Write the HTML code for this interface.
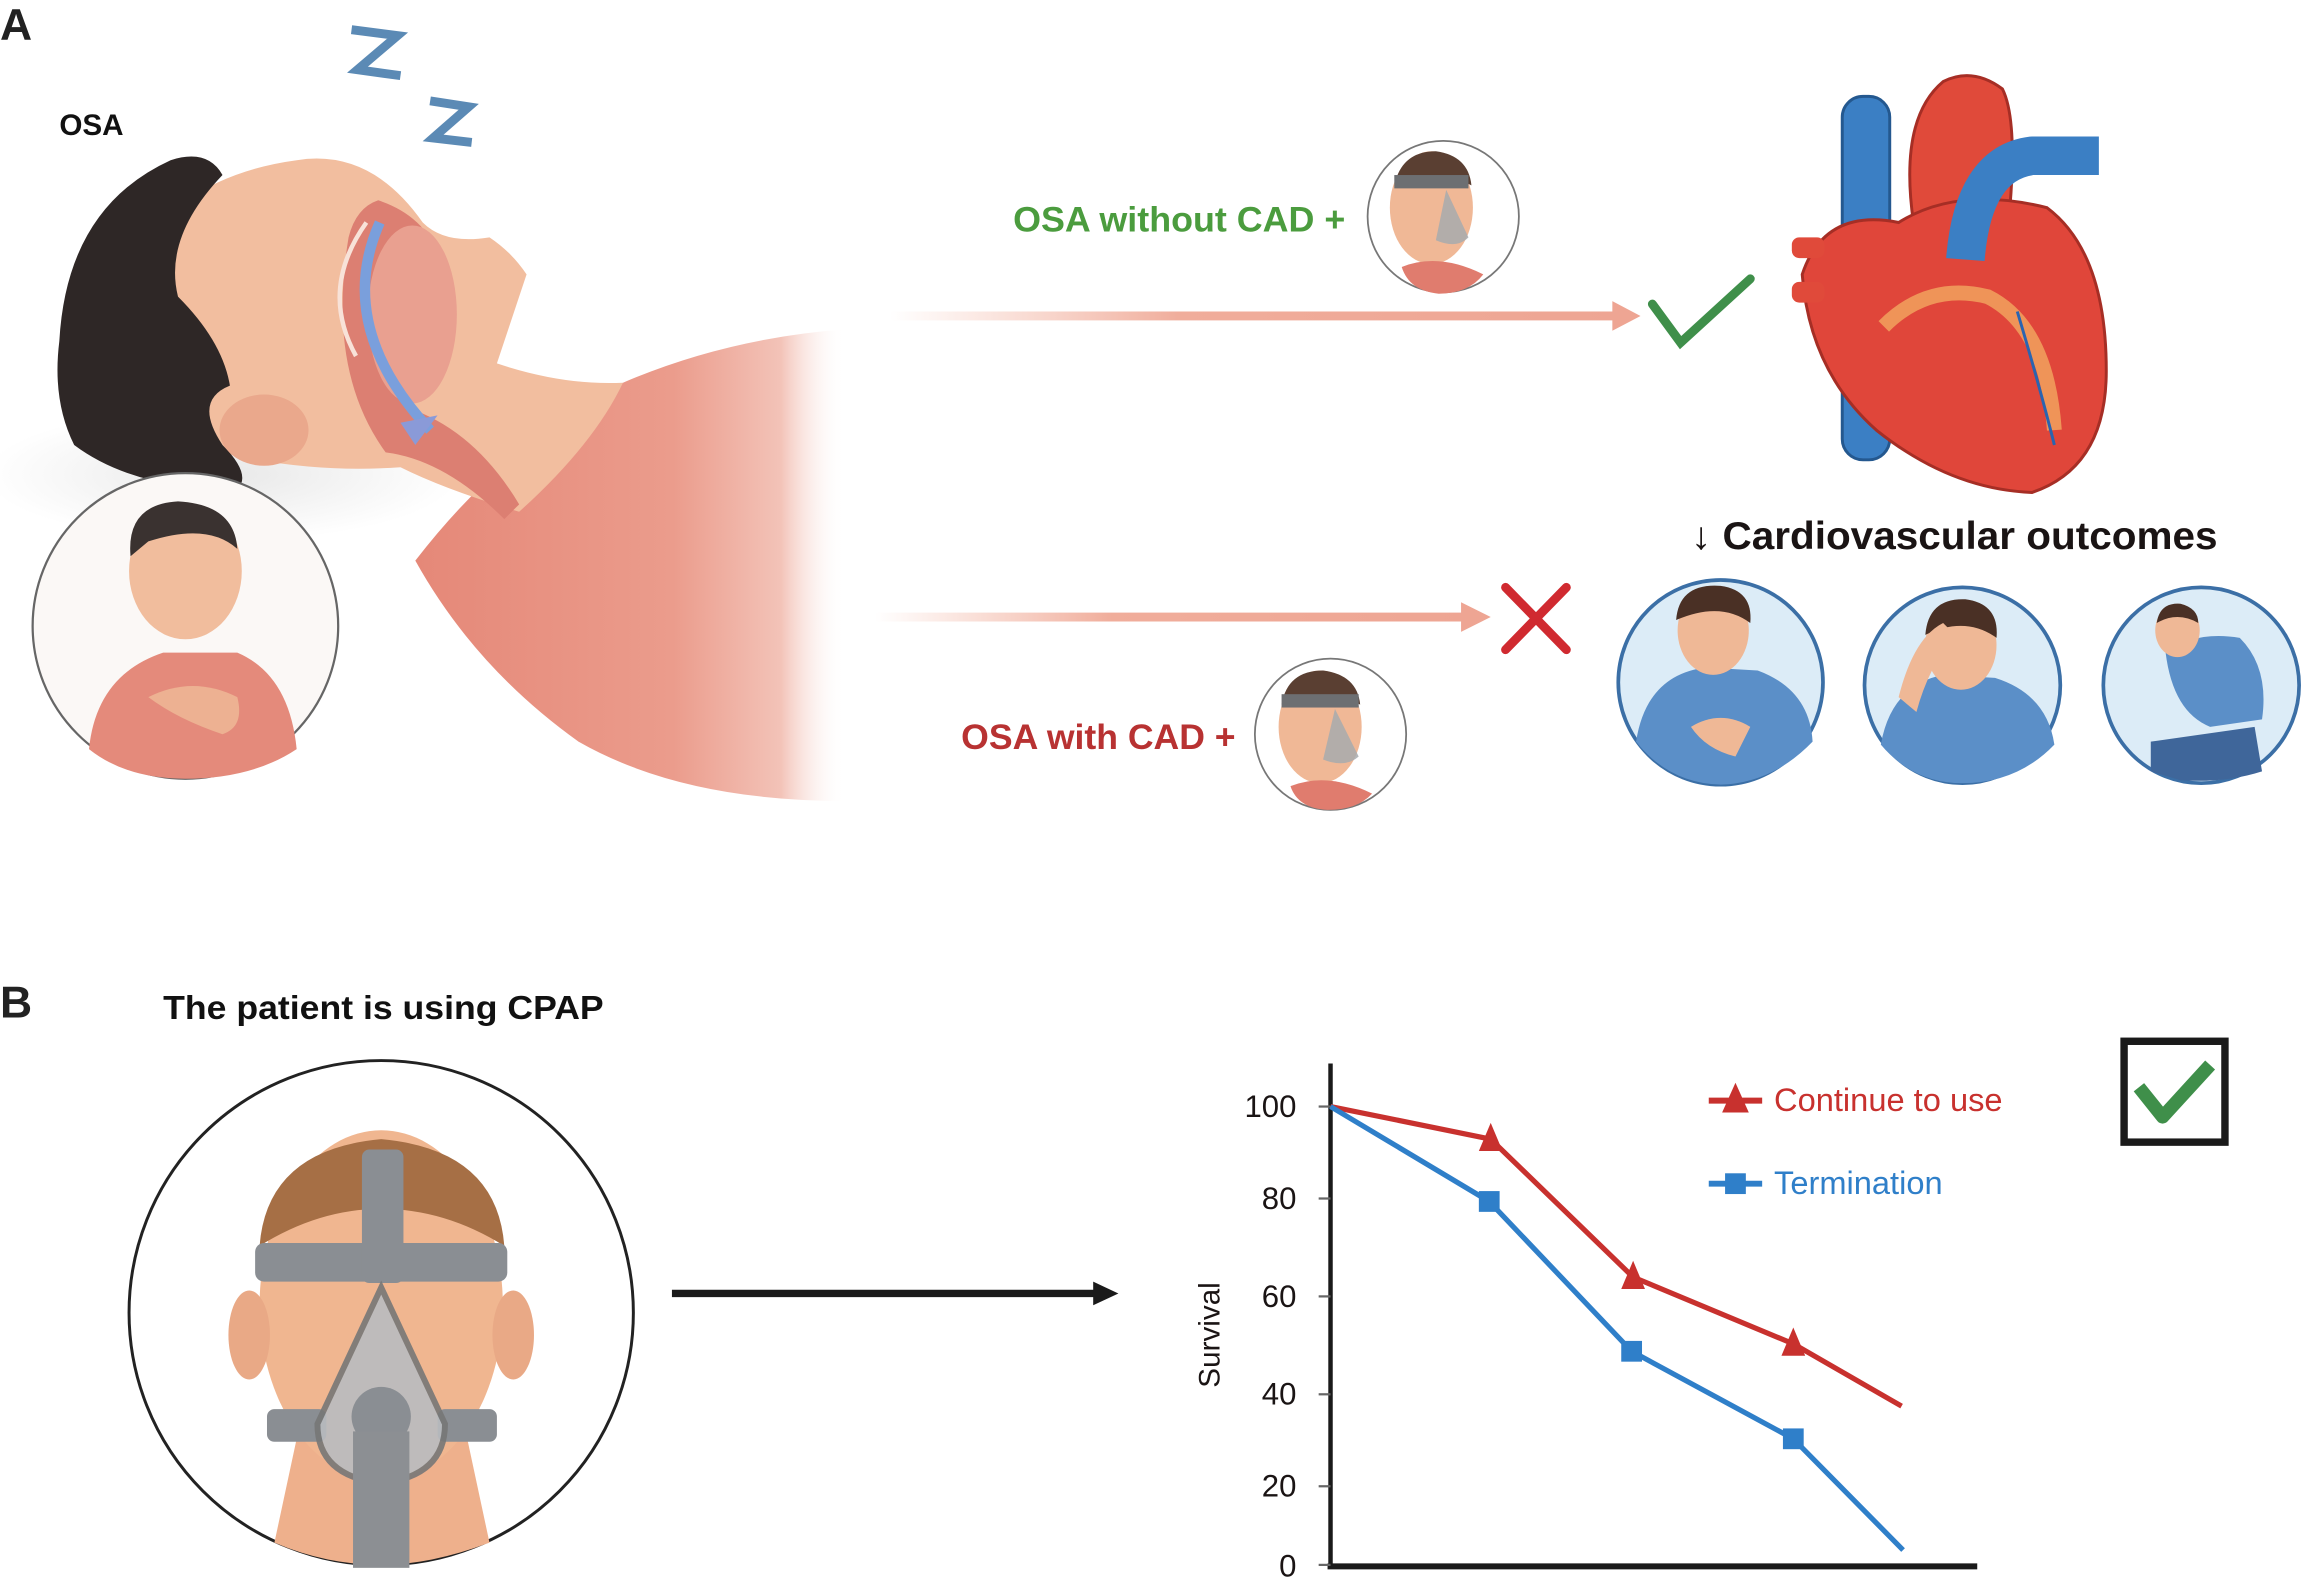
<!DOCTYPE html>
<html><head><meta charset="utf-8"><style>
html,body{margin:0;padding:0;background:#fff;}
svg{display:block;}
text{font-family:"Liberation Sans",sans-serif;}
</style></head><body>
<svg width="2314" height="1590" viewBox="0 0 2314 1590" xmlns="http://www.w3.org/2000/svg">
<defs>
<linearGradient id="ar" x1="0" x2="1"><stop offset="0" stop-color="#f4b9a8" stop-opacity="0"/><stop offset="0.4" stop-color="#f0ad9b"/><stop offset="1" stop-color="#eea593"/></linearGradient>
<linearGradient id="shirt" gradientUnits="userSpaceOnUse" x1="280" y1="0" x2="570" y2="0"><stop offset="0" stop-color="#e58878"/><stop offset="0.6" stop-color="#eb9c8c"/><stop offset="0.85" stop-color="#f3c3b8"/><stop offset="1" stop-color="#fff" stop-opacity="0"/></linearGradient>
<radialGradient id="pil" cx="0.5" cy="0.5" r="0.5"><stop offset="0" stop-color="#e8e8e8"/><stop offset="1" stop-color="#fff"/></radialGradient>
</defs>
<g transform="scale(1.4833)">
<text x="0" y="27" font-size="30" font-weight="bold" fill="#222">A</text>
<text x="40" y="91" font-size="20" font-weight="bold" fill="#111">OSA</text>
<polyline points="237,20 268,24 241,47 270,51" fill="none" stroke="#5b8ab5" stroke-width="6"/>
<polyline points="290,68 316,72 292,93 318,96" fill="none" stroke="#5b8ab5" stroke-width="6"/>
<ellipse cx="150" cy="320" rx="160" ry="45" fill="url(#pil)"/>
<path d="M280,378 Q340,300 420,258 Q490,228 570,222 L570,540 Q460,540 390,500 Q320,450 280,378Z" fill="url(#shirt)"/>
<path d="M70,200 Q110,120 200,108 Q250,100 285,150 Q300,165 330,160 Q345,170 355,185 Q345,215 335,245 Q380,260 420,258 Q400,300 350,345 Q300,330 270,315 Q200,320 130,300 Q80,260 70,200Z" fill="#f2be9f"/>
<path d="M40,230 Q45,140 115,108 Q140,100 150,118 Q110,160 120,200 Q150,230 155,260 Q130,270 150,300 Q170,320 160,330 Q90,330 50,300 Q35,270 40,230Z" fill="#2e2726"/>
<ellipse cx="178" cy="290" rx="30" ry="24" fill="#eaa88c"/>
<path d="M235,160 Q240,140 255,135 Q300,150 300,200 Q290,240 275,275 Q320,290 350,340 L340,350 Q300,310 260,305 Q220,250 235,160Z" fill="#dc7f72"/>
<ellipse cx="278" cy="212" rx="30" ry="60" fill="#e9a090"/>
<path d="M256,150 Q225,220 290,290" fill="none" stroke="#7a9fdc" stroke-width="7"/>
<path d="M247,150 Q215,195 240,240" fill="none" stroke="#f8e2d8" stroke-width="3"/>
<polygon points="270,285 295,280 280,300" fill="#8a9ad8"/>
<circle cx="125" cy="422" r="103" fill="#fbf8f6" stroke="#666" stroke-width="1.5"/>
<path d="M60,505 Q65,455 110,440 L160,440 Q195,455 200,505 Q170,525 125,525 Q85,525 60,505Z" fill="#e48a7b"/>
<ellipse cx="125" cy="385" rx="38" ry="46" fill="#f1bd9d"/>
<path d="M88,375 Q85,340 120,338 Q158,340 160,370 Q140,352 100,365Z" fill="#3a3230"/>
<path d="M100,470 Q130,455 160,470 Q165,490 150,495 Q120,485 100,470Z" fill="#edb192"/>
<rect x="600" y="210" width="490" height="6" fill="url(#ar)"/>
<polygon points="1087,203 1106,213 1087,223" fill="#eea593"/>
<polyline points="1114,205 1133,231 1180,188" fill="none" stroke="#3f8f4a" stroke-width="6" stroke-linecap="round"/>
<rect x="590" y="413" width="398" height="6" fill="url(#ar)"/>
<polygon points="985,406 1005,416 985,426" fill="#eea593"/>
<line x1="1015" y1="396" x2="1056" y2="438" stroke="#d02a30" stroke-width="6" stroke-linecap="round"/>
<line x1="1056" y1="396" x2="1015" y2="438" stroke="#d02a30" stroke-width="6" stroke-linecap="round"/>
<text x="683" y="156" font-size="24" font-weight="bold" fill="#4b9c3e" textLength="224" lengthAdjust="spacingAndGlyphs">OSA without CAD +</text>
<text x="648" y="505" font-size="24" font-weight="bold" fill="#b83232" textLength="185" lengthAdjust="spacingAndGlyphs">OSA with CAD +</text>
<g>
<circle cx="973" cy="146" r="51" fill="#fff" stroke="#777" stroke-width="1.2"/>
<ellipse cx="965" cy="140" rx="28" ry="38" fill="#f0b896"/>
<path d="M940,125 Q945,102 968,102 Q990,105 992,125 Q968,112 940,125Z" fill="#5a3f32"/>
<path d="M945,180 Q970,170 1000,185 Q990,198 970,198 Q950,196 945,180Z" fill="#e07c6e"/>
<rect x="940" y="118" width="50" height="9" fill="#6d6f72"/>
<path d="M975,128 L990,160 Q982,168 968,162Z" fill="#a7aaae" opacity="0.85"/>
</g>
<g>
<circle cx="897" cy="495" r="51" fill="#fff" stroke="#777" stroke-width="1.2"/>
<ellipse cx="890" cy="490" rx="28" ry="38" fill="#f0b896"/>
<path d="M864,475 Q868,452 892,452 Q915,455 917,475 Q892,462 864,475Z" fill="#5a3f32"/>
<path d="M870,530 Q895,520 925,535 Q915,546 895,546 Q875,545 870,530Z" fill="#e07c6e"/>
<rect x="864" y="468" width="52" height="9" fill="#6d6f72"/>
<path d="M900,478 L916,510 Q907,518 892,512Z" fill="#a7aaae" opacity="0.85"/>
</g>
<rect x="1242" y="65" width="32" height="245" rx="14" fill="#3b7fc4" stroke="#24588f" stroke-width="2"/>
<path d="M1290,150 Q1280,80 1310,55 Q1330,45 1350,60 Q1360,80 1355,140Z" fill="#e04a3a" stroke="#a62e25" stroke-width="2"/>
<path d="M1215,185 Q1230,140 1280,150 Q1320,125 1380,140 Q1420,170 1420,250 Q1420,315 1370,332 Q1315,330 1265,290 Q1220,250 1215,185Z" fill="#e0463a" stroke="#a62e25" stroke-width="2"/>
<path d="M1270,220 Q1300,190 1340,200 Q1380,220 1385,290" fill="none" stroke="#f2a860" stroke-width="10" opacity="0.8"/>
<path d="M1325,175 Q1330,110 1370,105 L1415,105" fill="none" stroke="#3b7fc4" stroke-width="26" stroke-linejoin="round"/>
<path d="M1360,210 Q1375,260 1385,300" fill="none" stroke="#2a64b0" stroke-width="2"/>
<rect x="1208" y="160" width="22" height="14" rx="5" fill="#e04a3a"/>
<rect x="1208" y="190" width="22" height="14" rx="5" fill="#e04a3a"/>
<text x="1140" y="370" font-size="26" font-weight="bold" fill="#1a1414" textLength="355" lengthAdjust="spacingAndGlyphs">↓ Cardiovascular outcomes</text>
<g>
<circle cx="1160" cy="460" r="69" fill="#dcecf7" stroke="#3b6fa6" stroke-width="2.5"/>
<path d="M1103,500 Q1110,455 1150,450 L1185,452 Q1220,465 1222,500 Q1195,528 1160,529 Q1125,528 1103,500Z" fill="#5b8fc8"/>
<ellipse cx="1155" cy="425" rx="24" ry="30" fill="#efb896"/>
<path d="M1130,418 Q1132,393 1160,395 Q1182,398 1180,420 Q1160,405 1130,418Z" fill="#4a3025"/>
<path d="M1140,490 Q1160,478 1180,490 L1170,510 Q1150,505 1140,490Z" fill="#efb896"/>
</g>
<g>
<circle cx="1323" cy="462" r="66" fill="#dcecf7" stroke="#3b6fa6" stroke-width="2.5"/>
<path d="M1268,502 Q1275,462 1310,455 L1345,457 Q1380,468 1385,502 Q1360,528 1323,528 Q1290,528 1268,502Z" fill="#5b8fc8"/>
<ellipse cx="1322" cy="435" rx="24" ry="30" fill="#efb896"/>
<path d="M1298,428 Q1300,403 1325,404 Q1348,407 1346,430 Q1325,415 1298,428Z" fill="#4a3025"/>
<path d="M1280,470 Q1290,430 1310,420 L1318,428 Q1300,450 1292,480Z" fill="#efb896"/>
</g>
<g>
<circle cx="1484" cy="462" r="66" fill="#dcecf7" stroke="#3b6fa6" stroke-width="2.5"/>
<path d="M1460,440 Q1480,425 1510,430 Q1530,450 1525,485 L1490,490 Q1465,480 1460,440Z" fill="#5b8fc8"/>
<path d="M1450,500 L1520,490 L1525,520 Q1500,528 1470,526 L1450,520Z" fill="#3f669a"/>
<ellipse cx="1468" cy="425" rx="15" ry="18" fill="#efb896"/>
<path d="M1454,420 Q1456,406 1470,407 Q1482,410 1482,420 Q1468,412 1454,420Z" fill="#4a3025"/>
</g>
<text x="0" y="686" font-size="30" font-weight="bold" fill="#222">B</text>
<text x="110" y="687" font-size="22.5" font-weight="bold" fill="#111" textLength="297" lengthAdjust="spacingAndGlyphs">The patient is using CPAP</text>
<circle cx="257" cy="885" r="170" fill="#fff" stroke="#222" stroke-width="2"/>
<path d="M200,970 L315,970 L330,1040 Q290,1055 257,1055 Q220,1055 185,1040Z" fill="#eeb08c"/>
<ellipse cx="257" cy="880" rx="82" ry="118" fill="#f0b690"/>
<ellipse cx="168" cy="900" rx="14" ry="30" fill="#e9a986"/>
<ellipse cx="346" cy="900" rx="14" ry="30" fill="#e9a986"/>
<path d="M175,840 Q180,775 257,768 Q335,775 340,840 Q300,815 257,815 Q215,815 175,840Z" fill="#a66f45"/>
<rect x="172" y="838" width="170" height="26" rx="6" fill="#8a8e93"/>
<rect x="244" y="775" width="28" height="90" rx="5" fill="#8a8e93"/>
<rect x="180" y="950" width="40" height="22" rx="5" fill="#8a8e93"/>
<rect x="295" y="950" width="40" height="22" rx="5" fill="#8a8e93"/>
<path d="M257,868 L300,960 Q300,995 257,1000 Q214,995 214,960Z" fill="#b9bcc0" stroke="#777" stroke-width="4" opacity="0.9"/>
<circle cx="257" cy="955" r="20" fill="#8a8e93"/>
<rect x="238" y="965" width="38" height="92" fill="#8c8f93"/>
<line x1="453" y1="872" x2="740" y2="872" stroke="#1a1a1a" stroke-width="5"/>
<polygon points="737,864 754,872 737,880" fill="#1a1a1a"/>
<line x1="897" y1="717" x2="897" y2="1057" stroke="#1a1a1a" stroke-width="3"/>
<line x1="895" y1="1056" x2="1333" y2="1056" stroke="#1a1a1a" stroke-width="4"/>
<g stroke="#666" stroke-width="1.5">
<line x1="889" y1="746" x2="897" y2="746"/><line x1="889" y1="808" x2="897" y2="808"/>
<line x1="889" y1="874" x2="897" y2="874"/><line x1="889" y1="940" x2="897" y2="940"/>
<line x1="889" y1="1002" x2="897" y2="1002"/><line x1="889" y1="1055" x2="897" y2="1055"/>
</g>
<g font-size="21" fill="#1a1414" text-anchor="end">
<text x="874" y="753">100</text><text x="874" y="815">80</text><text x="874" y="881">60</text>
<text x="874" y="947">40</text><text x="874" y="1009">20</text><text x="874" y="1063">0</text>
</g>
<text transform="translate(822,900) rotate(-90)" font-size="20" fill="#1a1414" text-anchor="middle">Survival</text>
<polyline points="897,746 1005,768 1101,861 1209,906 1282,948" fill="none" stroke="#c8312e" stroke-width="3.5"/>
<polyline points="897,746 1004,810 1100,911 1209,970 1283,1045" fill="none" stroke="#2f7fc9" stroke-width="3.5"/>
<g fill="#c8312e"><polygon points="1005,757 997,776 1013,776"/><polygon points="1101,850 1093,869 1109,869"/><polygon points="1209,895 1201,914 1217,914"/></g>
<g fill="#2f7fc9"><rect x="997" y="803" width="14" height="14"/><rect x="1093" y="904" width="14" height="14"/><rect x="1202" y="963" width="14" height="14"/></g>
<line x1="1152" y1="742" x2="1188" y2="742" stroke="#c8312e" stroke-width="4"/>
<polygon points="1170,730 1161,750 1179,750" fill="#c8312e"/>
<text x="1196" y="749" font-size="22" fill="#c8312e">Continue to use</text>
<line x1="1152" y1="798" x2="1188" y2="798" stroke="#2f7fc9" stroke-width="4"/>
<rect x="1163" y="791" width="14" height="14" fill="#2f7fc9"/>
<text x="1196" y="805" font-size="22" fill="#2f7fc9">Termination</text>
<rect x="1432" y="702" width="68" height="68" fill="#fff" stroke="#1a1a1a" stroke-width="5"/>
<polyline points="1442,733 1458,753 1490,718" fill="none" stroke="#3f8f4a" stroke-width="9" stroke-linejoin="round"/>
</g>
</svg>
</body></html>
